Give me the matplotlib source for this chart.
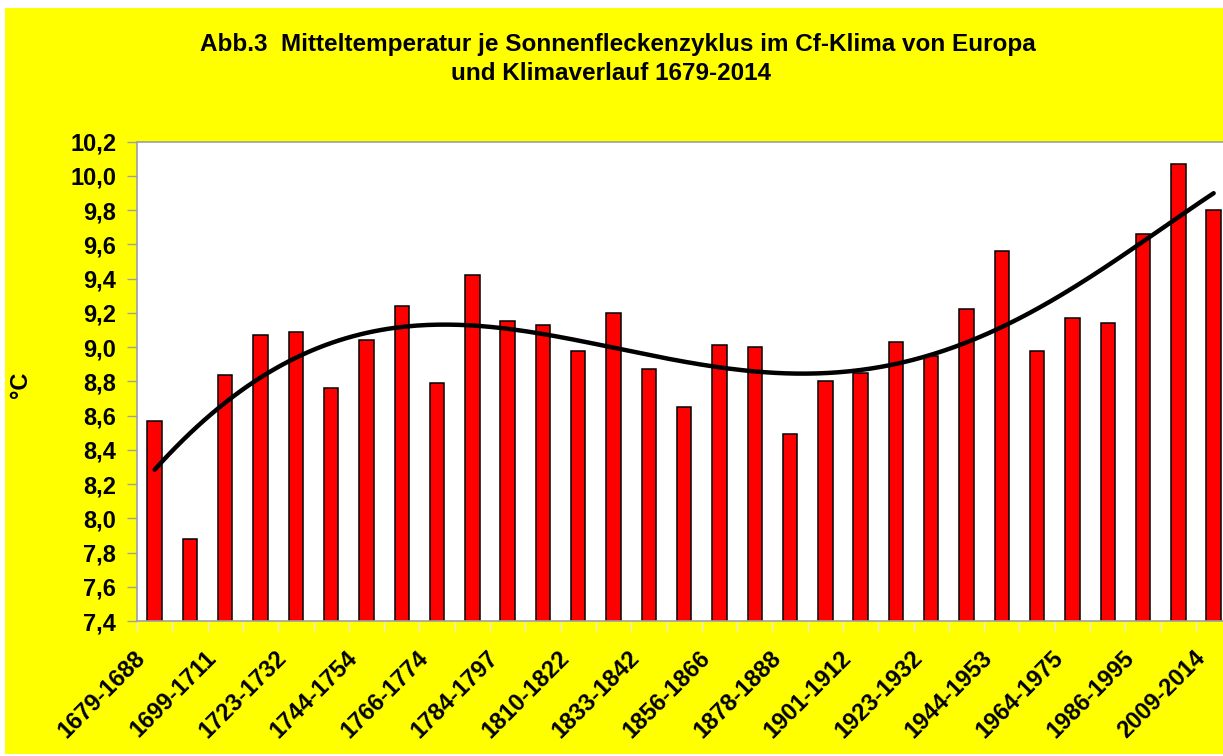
import numpy as np
import matplotlib
matplotlib.use("Agg")
import matplotlib.pyplot as plt
from matplotlib.patches import Rectangle
from matplotlib.ticker import FixedLocator, FuncFormatter
from matplotlib.transforms import ScaledTranslation

plt.rcParams['font.family'] = ['Liberation Sans', 'DejaVu Sans']

cycles = ["1679-1688", "1689-1698", "1699-1711", "1712-1722", "1723-1732", "1733-1743",
          "1744-1754", "1755-1765", "1766-1774", "1775-1783", "1784-1797", "1798-1809",
          "1810-1822", "1823-1832", "1833-1842", "1843-1855", "1856-1866", "1867-1877",
          "1878-1888", "1889-1900", "1901-1912", "1913-1922", "1923-1932", "1933-1943",
          "1944-1953", "1954-1963", "1964-1975", "1976-1985", "1986-1995", "1996-2008",
          "2009-2014"]
temps = [8.57, 7.88, 8.84, 9.07, 9.09, 8.76, 9.04, 9.24, 8.79, 9.42, 9.15,
         9.13, 8.98, 9.20, 8.87, 8.65, 9.01, 9.00, 8.49, 8.80, 8.85, 9.03,
         8.95, 9.22, 9.56, 8.98, 9.17, 9.14, 9.66, 10.07, 9.80]
yticks = [7.4, 7.6, 7.8, 8.0, 8.2, 8.4, 8.6, 8.8, 9.0, 9.2, 9.4, 9.6, 9.8, 10.0, 10.2]
title1 = "Abb.3  Mitteltemperatur je Sonnenfleckenzyklus im Cf-Klima von Europa"
title2 = "und Klimaverlauf 1679-2014"

W, H = 1223, 756
fig = plt.figure(figsize=(W / 100, H / 100), dpi=100, facecolor='white')
fig.patches.append(Rectangle((5 / W, 2 / H), 1, 1 - 10 / H, transform=fig.transFigure,
                             facecolor='#FFFF00', edgecolor='none', zorder=-5))

ax = fig.add_axes([137 / W, 1 - 621 / H, 1094.3 / W, (621 - 141.7) / H])
ax.set_zorder(2)
ax.set_facecolor('white')
x = np.arange(len(cycles))
ax.bar(x, temps, width=0.41, bottom=0, color='#FF0000', edgecolor='black', linewidth=1.1, zorder=2)

# polynomial trend line (Excel-style)
coef = np.polyfit(x, temps, 5)
xs = np.linspace(0, len(cycles) - 1, 300)
ax.plot(xs, np.polyval(coef, xs), color='black', linewidth=3.2, solid_capstyle='round', zorder=3)

ax.set_xlim(-0.5, len(cycles) - 0.5)
ax.set_ylim(7.4, 10.2)
for s in ['top', 'right', 'left', 'bottom']:
    ax.spines[s].set_color('#A0A0A0')
    ax.spines[s].set_linewidth(1.2)
ax.set_yticks(yticks)
ax.yaxis.set_major_formatter(FuncFormatter(lambda v, p: f"{v:.1f}".replace('.', ',')))
ax.tick_params(axis='y', direction='out', length=7, width=1, color='#A0A0A0', pad=8,
               labelsize=17)
for lab in ax.get_yticklabels():
    lab.set_fontweight('bold')

ax.set_xticks(x[::2])
ax.set_xticklabels(cycles[::2], rotation=45, ha='right', va='baseline',
                   rotation_mode='anchor', fontsize=17, fontweight='bold')
ax.tick_params(axis='x', which='major', length=0, pad=27.5)
off = ScaledTranslation(-8 / 100, 0, fig.dpi_scale_trans)
for lab in ax.xaxis.get_majorticklabels():
    lab.set_transform(lab.get_transform() + off)
ax.xaxis.set_minor_locator(FixedLocator(np.arange(-0.5, len(cycles), 1.0)))
ax.tick_params(axis='x', which='minor', direction='out', length=7, width=1, color='#E8E8E8')

fig.text(20 / W, 1 - 385 / H, "°C", rotation=90, ha='center', va='center',
         fontsize=17, fontweight='bold')
fig.text(618 / W, 1 - 51 / H, title1, ha='center', va='baseline', fontsize=17.5,
         fontweight='bold')
fig.text(611 / W, 1 - 80 / H, title2, ha='center', va='baseline', fontsize=17.5,
         fontweight='bold')

fig.savefig("out.png", dpi=100, facecolor=fig.get_facecolor())
